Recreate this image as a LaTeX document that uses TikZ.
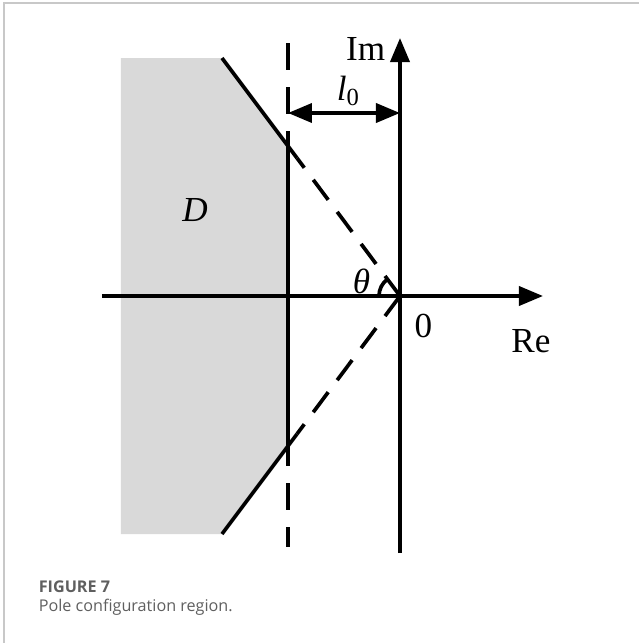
\documentclass[tikz,border=0pt]{standalone}
\usepackage{fontspec}
\setmainfont{Liberation Serif}
\newfontfamily\capfont{Open Sans}
\usetikzlibrary{arrows.meta}
\definecolor{regiongray}{RGB}{217,217,217}
\definecolor{framegray}{RGB}{200,200,200}
\definecolor{capgray}{RGB}{95,95,95}
\tikzset{
  lbl/.style={inner sep=0pt, anchor=base},
  dashline/.style={dash pattern=on 2.7mm off 1.7mm},
}

\begin{document}
\begin{tikzpicture}[>={Triangle[length=2.4mm,width=1.9mm]}, line width=1.05pt]
        \useasboundingbox (-4,2.96) rectangle (2.39,-3.47);
        \draw[framegray, line width=0.5pt] (-3.96,-3.47) -- (-3.96,2.93) -- (2.39,2.93);
        % region D
        \fill[regiongray] (-2.79,2.38) -- (-1.78,2.38) -- (-1.12,1.50) -- (-1.12,-1.50)
            -- (-1.78,-2.38) -- (-2.79,-2.38) -- cycle;
        \coordinate (O) at (0,0);
        % boundary lines
        \draw[dashline] (-1.12,2.53) -- (-1.12,-2.51);
        \draw (-1.12,1.50) -- (-1.12,-1.50);
        \draw (-1.78,2.38) -- (-1.03,1.38);
        \draw (-1.78,-2.38) -- (-1.03,-1.38);
        \draw[dash pattern=on 2.5mm off 1.5mm] (O) -- (-1.03,1.38);
        \draw[dash pattern=on 2.5mm off 1.5mm] (O) -- (-1.03,-1.38);
        % axes
        \draw[->] (-2.98,0) -- (1.43,0);
        \draw[->] (0,-2.57) -- (0,2.58);
        \draw[<->] (-1.12,1.83) -- (0,1.83);
        \draw (-0.21,0) arc[start angle=180, end angle=127, radius=0.21];
        % labels
        \node[lbl, anchor=base east] (im) at (-0.13,2.36) {Im};
        \node[lbl] (re) at (1.31,-0.56) {Re};
        \node[lbl] (zero) at (0.235,-0.41) {0};
        \node[lbl, anchor=base west] (l0) at (-0.65,1.96) {\textit{l}\textsubscript{0}};
        \node[lbl] (theta) at (-0.385,0.03) {\textit{θ}};
        \node[lbl] (dlab) at (-2.05,0.75) {\textit{D}};
        % caption
        \node[lbl, anchor=base west, text=capgray, font=\capfont\bfseries\fontsize{4.6}{5}\selectfont] (fig) at (-3.63,-2.96) {FIGURE 7};
        \node[lbl, anchor=base west, text=capgray, font=\capfont\fontsize{4.6}{5}\selectfont] (cap) at (-3.63,-3.15) {Pole configuration region.};
    \end{tikzpicture}
\end{document}
